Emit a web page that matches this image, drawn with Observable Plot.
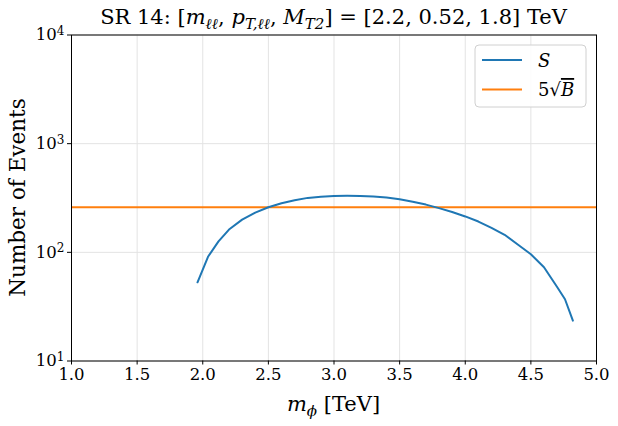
<!DOCTYPE html>
<html>
<head>
<meta charset="utf-8">
<script src="https://cdn.jsdelivr.net/npm/d3@7"></script>
<script src="https://cdn.jsdelivr.net/npm/@observablehq/plot@0.6"></script>
<style>
  html, body { margin: 0; padding: 0; background: white; }
  svg { display: block; }
</style>
</head>
<body>
<div id="chart"></div>
<script>
// ---- data ----
const mPhi = [1.96, 2.04, 2.12, 2.2, 2.3, 2.4, 2.5, 2.6, 2.7, 2.8, 2.9, 3.0, 3.1, 3.2, 3.3, 3.4, 3.5, 3.6, 3.7, 3.8, 3.9, 4.0, 4.1, 4.2, 4.3, 4.4, 4.5, 4.6, 4.7, 4.76, 4.82];
const signal = [53, 91, 126, 162, 200, 232, 260, 283, 302, 317, 325, 330, 331, 330, 326, 319, 308, 292, 275, 255, 235, 214, 192, 168, 145, 118, 96, 73, 48, 37, 23.5];
const fiveSqrtB = 260;
const xTicks = [1.0, 1.5, 2.0, 2.5, 3.0, 3.5, 4.0, 4.5, 5.0];
const yTicks = [10, 100, 1000, 10000];
const seriesNames = ["S", "5√B"];
const seriesColors = ["#1f77b4", "#ff7f0e"];

const rows = mPhi.map((m, i) => ({m, s: signal[i]}));

const W = 618, H = 426;
const mL = 71, mR = 22, mT = 34.5, mB = 65.5;
const FONT = "DejaVu Serif";

const chart = Plot.plot({
  width: W, height: H,
  marginLeft: mL, marginRight: mR, marginTop: mT, marginBottom: mB,
  style: {fontFamily: FONT, fontSize: "16px", background: "white", color: "black"},
  x: {domain: [1, 5]},
  y: {type: "log", domain: [10, 10000]},
  marks: [
    Plot.gridX(xTicks, {stroke: "#e3e3e3", strokeOpacity: 1, strokeWidth: 1}),
    Plot.gridY(yTicks, {stroke: "#e3e3e3", strokeOpacity: 1, strokeWidth: 1}),
    Plot.ruleY([fiveSqrtB], {stroke: seriesColors[1], strokeWidth: 2}),
    Plot.line(rows, {x: "m", y: "s", stroke: seriesColors[0], strokeWidth: 2}),
    Plot.frame({stroke: "black", strokeWidth: 1}),
    Plot.axisX(xTicks, {tickSize: 4, tickPadding: 3, tickFormat: d => d.toFixed(1), label: null, fontSize: 16.5}),
    Plot.axisY(yTicks, {tickSize: 4, tickPadding: 3, tickFormat: d => String(Math.round(Math.log10(d))), label: null, fontSize: 16.5})
  ]
});

document.getElementById("chart").appendChild(chart);
const svg = d3.select(chart);
svg.attr("font-family", FONT);
svg.selectAll("text").attr("font-family", FONT).attr("font-weight", 300);

// superscript y tick labels: 10^n
svg.selectAll('g[aria-label="y-axis tick label"] text').each(function() {
  const t = d3.select(this);
  const e = t.text();
  t.text("");
  t.append("tspan").text("10");
  t.append("tspan").attr("dy", "-0.45em").attr("font-size", "12px").text(e);
});

// title with math
function addRich(parent, parts, baseSize) {
  let cur = 0;
  for (const p of parts) {
    const sh = p.sub ? Math.round(baseSize * 0.22) : 0;
    const ts = parent.append("tspan").text(p.t);
    if (sh !== cur) { ts.attr("dy", sh - cur); cur = sh; }
    if (p.i) ts.attr("font-style", "italic");
    if (p.sub) ts.attr("font-size", Math.round(baseSize * 0.7) + "px");
  }
}
const cx = mL + (W - mL - mR) / 2;
const title = svg.append("text")
  .attr("x", cx).attr("y", 24).attr("text-anchor", "middle")
  .attr("font-family", FONT).attr("font-size", "21px").attr("fill", "black");
addRich(title, [
  {t: "SR 14: ["}, {t: "m", i: 1}, {t: "ℓℓ", i: 1, sub: 1}, {t: ", "},
  {t: "p", i: 1}, {t: "T,ℓℓ", i: 1, sub: 1}, {t: ", "},
  {t: "M", i: 1}, {t: "T2", i: 1, sub: 1}, {t: "] = [2.2, 0.52, 1.8] TeV"}
], 21);

// x label
const xl = svg.append("text")
  .attr("x", cx).attr("y", 411).attr("text-anchor", "middle")
  .attr("font-family", FONT).attr("font-size", "21px").attr("fill", "black");
addRich(xl, [{t: "m", i: 1}, {t: "ϕ", i: 1, sub: 1}, {t: " [TeV]"}], 21);

// y label
svg.append("text")
  .attr("transform", `translate(25, ${mT + (H - mT - mB) / 2}) rotate(-90)`)
  .attr("text-anchor", "middle")
  .attr("font-family", FONT).attr("font-size", "21.5px").attr("fill", "black")
  .text("Number of Events");

// legend
const lg = svg.append("g");
lg.append("rect").attr("x", 475).attr("y", 45).attr("width", 111).attr("height", 62)
  .attr("rx", 4).attr("fill", "white").attr("fill-opacity", 0.85)
  .attr("stroke", "#d0d0d0").attr("stroke-width", 1);
seriesNames.forEach((name, i) => {
  const yy = 60 + i * 29.5;
  lg.append("line").attr("x1", 482).attr("x2", 522).attr("y1", yy).attr("y2", yy)
    .attr("stroke", seriesColors[i]).attr("stroke-width", 2);
  const tx = lg.append("text").attr("x", 538).attr("y", yy + 6.5)
    .attr("text-anchor", "start")
    .attr("font-family", FONT).attr("font-size", "18px").attr("fill", "black");
  if (i === 0) {
    tx.append("tspan").attr("font-style", "italic").text("S");
  } else {
    tx.append("tspan").text("5√");
    tx.append("tspan").attr("font-style", "italic")
      .style("text-decoration", "overline").text("B");
  }
});
</script>
</body>
</html>
